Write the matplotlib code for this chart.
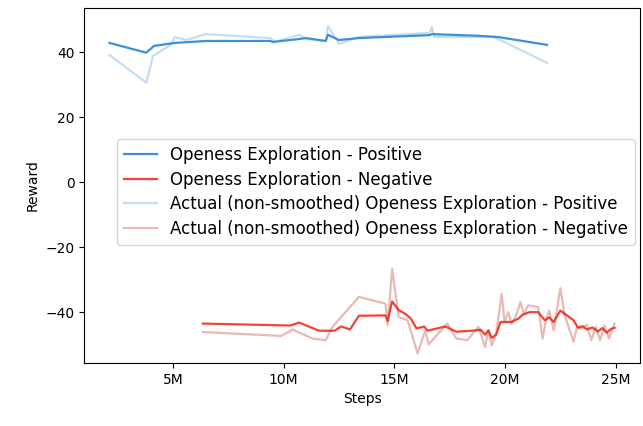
import matplotlib.pyplot as plt
from matplotlib.ticker import FuncFormatter

# steps in millions, reward values
pos_x = [2.13, 3.79, 4.15, 5.09, 5.8, 6.5, 9.4, 9.5, 10.7, 11.0, 11.9, 12.0, 12.5, 13.4, 16.6, 16.7, 18.8, 19.7, 21.9]
pos_smooth = [42.8, 39.8, 41.9, 42.8, 43.1, 43.4, 43.4, 43.1, 44.0, 44.3, 43.4, 45.3, 43.7, 44.3, 45.2, 45.5, 45.0, 44.6, 42.2]

pos_raw_x = [2.13, 3.79, 4.1, 4.9, 5.09, 5.6, 6.5, 9.4, 9.6, 10.7, 11.0, 11.9, 12.0, 12.5, 13.4, 16.6, 16.7, 16.8, 19.5, 21.9]
pos_raw = [39.1, 30.6, 38.8, 42.2, 44.6, 43.7, 45.5, 44.3, 43.1, 45.3, 44.0, 43.4, 48.0, 42.5, 44.6, 45.9, 47.7, 44.6, 44.6, 36.7]

neg_x = [6.35, 10.3, 10.7, 11.6, 12.3, 12.6, 13.0, 13.4, 14.6, 14.7, 14.9, 15.2, 15.5, 15.75, 16.0, 16.35, 16.5,
         17.3, 17.8, 18.7, 18.9, 19.1, 19.25, 19.4, 19.6, 19.8, 20.3, 20.6, 20.8, 21.1, 21.5, 21.8, 22.0, 22.2,
         22.5, 22.8, 23.1, 23.3, 23.5, 23.7, 23.95, 24.2, 24.4, 24.6, 24.8, 24.95]
neg_smooth = [-43.4, -44.0, -43.1, -45.6, -45.6, -44.3, -45.2, -41.0, -40.9, -42.6, -36.6, -39.3, -40.4, -41.9, -44.9,
              -44.3, -45.6, -44.3, -45.9, -45.5, -45.3, -46.8, -45.5, -47.8, -46.8, -42.9, -42.9, -41.9, -40.7, -39.9,
              -39.9, -42.4, -41.5, -42.9, -39.4, -40.9, -42.4, -44.7, -44.2, -45.2, -44.6, -45.8, -44.8, -46.2, -45.0, -44.7]

neg_raw_x = [6.35, 9.9, 10.4, 11.3, 11.9, 12.2, 13.4, 14.6, 14.7, 14.9, 15.2, 15.6, 16.05, 16.4, 16.55, 17.4, 17.8,
             18.3, 18.8, 19.1, 19.25, 19.4, 19.6, 19.85, 19.98, 20.15, 20.3, 20.5, 20.7, 20.85, 21.05, 21.5, 21.7,
             21.85, 22.0, 22.2, 22.5, 22.7, 23.1, 23.25, 23.45, 23.7, 23.9, 24.1, 24.3, 24.5, 24.7, 24.95]
neg_raw = [-46.0, -47.2, -45.2, -48.0, -48.5, -44.5, -35.2, -37.3, -43.9, -26.6, -41.4, -42.4, -52.6, -45.5, -49.8,
           -43.4, -48.0, -48.5, -44.4, -50.6, -45.5, -50.1, -46.5, -34.3, -42.9, -39.9, -43.4, -41.0, -36.8, -40.5,
           -37.8, -38.3, -48.0, -42.5, -39.4, -45.5, -32.5, -40.9, -49.0, -44.5, -45.0, -43.8, -48.5, -44.4, -48.5,
           -44.0, -48.0, -43.4]

blue = '#3d8fd9'
red = '#f44336'

fig = plt.figure(figsize=(6.43, 4.26), dpi=100)
ax = fig.add_axes([0.131, 0.148, 0.864, 0.833])

m = 1e6
ax.plot([v * m for v in pos_x], pos_smooth, color=blue, lw=1.6, label='Openess Exploration - Positive')
ax.plot([v * m for v in neg_x], neg_smooth, color=red, lw=1.6, label='Openess Exploration - Negative')
ax.plot([v * m for v in pos_raw_x], pos_raw, color=blue, lw=1.6, alpha=0.3,
        label='Actual (non-smoothed) Openess Exploration - Positive')
ax.plot([v * m for v in neg_raw_x], neg_raw, color='#c0392b', lw=1.6, alpha=0.35,
        label='Actual (non-smoothed) Openess Exploration - Negative')

ax.xaxis.set_major_formatter(FuncFormatter(lambda v, p: '%dM' % round(v / m)))
ax.set_xticks([5 * m, 10 * m, 15 * m, 20 * m, 25 * m])
ax.set_ylim(-55.5, 53.5)
ax.set_xlabel('Steps')
ax.set_ylabel('Reward')
ax.legend(loc='center right', bbox_to_anchor=(1.0, 0.482), fontsize=12,
          borderaxespad=0.3, labelspacing=0.4)

fig.savefig('out.png', dpi=100)
